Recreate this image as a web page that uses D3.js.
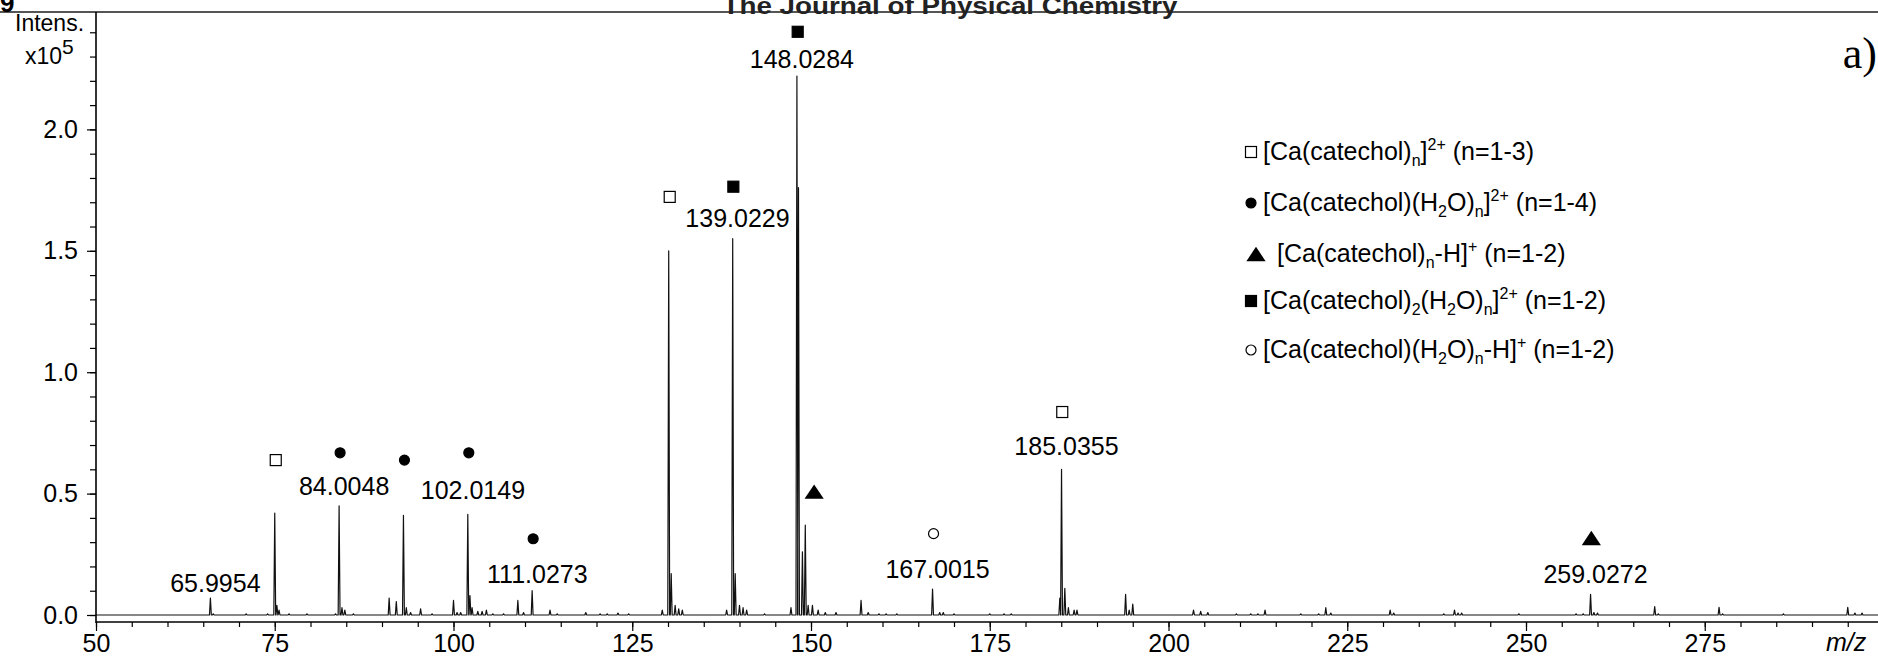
<!DOCTYPE html>
<html>
<head>
<meta charset="utf-8">
<script src="https://cdn.jsdelivr.net/npm/d3@7/dist/d3.min.js"></script>
<style>
  body { margin: 0; background: #fff; }
  svg { display: block; }
  text { font-family: "Liberation Sans", Arial, sans-serif; fill: #000; }
</style>
</head>
<body>
<svg id="chart"></svg>
<script>
// Peak list: m/z and intensity (x10^5)
const peakMz = [66.0, 66.4, 71.0, 74.0, 75.0, 75.3, 75.6, 77.0, 79.5, 83.5, 84.0, 84.4, 84.8, 86.0,
  91.0, 92.0, 93.0, 93.4, 94.0, 95.4, 97.0, 100.0, 100.5, 101.0, 102.0, 102.3, 102.6, 103.4, 104.0, 104.6,
  105.5, 107.0, 109.0, 109.8, 111.0, 113.5, 114.5, 118.5, 120.5, 121.5, 123.0, 124.5,
  129.2, 130.1, 130.45, 131.0, 131.5, 132.0, 138.2, 139.05, 139.4, 140.0, 140.5, 141.0, 143.5,
  147.2, 148.03, 148.25, 148.8, 149.2, 149.6, 150.2, 151.0, 152.0, 153.5, 157.0, 158.0, 159.5, 160.5, 162.0,
  167.0, 168.0, 168.5, 170.0, 175.0, 177.0, 178.0, 184.8, 185.04, 185.5, 186.0, 186.8, 187.2,
  194.0, 194.5, 195.0, 203.5, 204.5, 205.5, 209.5, 211.5, 212.5, 213.5, 218.5, 221.0, 222.0, 222.7,
  231.0, 231.5, 238.5, 240.0, 240.5, 241.0, 249.0, 257.0, 258.0, 259.03, 259.5, 260.0,
  268.0, 268.5, 277.0, 277.5, 286.0, 295.0, 296.0, 297.0];
const peakInt = [0.07, 0.005, 0.005, 0.005, 0.42, 0.04, 0.02, 0.005, 0.005, 0.005, 0.45, 0.03, 0.02, 0.005,
  0.07, 0.055, 0.41, 0.03, 0.01, 0.025, 0.005, 0.06, 0.01, 0.01, 0.415, 0.08, 0.03, 0.015, 0.015, 0.02,
  0.005, 0.005, 0.06, 0.01, 0.10, 0.02, 0.005, 0.01, 0.005, 0.005, 0.008, 0.005,
  0.02, 1.50, 0.17, 0.04, 0.025, 0.02, 0.02, 1.55, 0.17, 0.04, 0.03, 0.02, 0.005,
  0.03, 2.22, 1.76, 0.26, 0.37, 0.04, 0.04, 0.02, 0.01, 0.01, 0.06, 0.01, 0.005, 0.005, 0.005,
  0.107, 0.01, 0.01, 0.005, 0.005, 0.005, 0.005, 0.07, 0.60, 0.11, 0.03, 0.02, 0.02,
  0.085, 0.02, 0.045, 0.02, 0.015, 0.01, 0.005, 0.005, 0.005, 0.02, 0.005, 0.005, 0.03, 0.008,
  0.02, 0.008, 0.005, 0.02, 0.008, 0.008, 0.005, 0.005, 0.005, 0.085, 0.01, 0.008,
  0.035, 0.005, 0.032, 0.005, 0.005, 0.032, 0.008, 0.008];

// Peak labels (the text is the m/z)
const labelText = ["65.9954", "84.0048", "102.0149", "111.0273", "139.0229", "148.0284", "167.0015", "185.0355", "259.0272"];
const labelLevel = [0.095, 0.494, 0.478, 0.132, 1.598, 2.253, 0.152, 0.659, 0.132];

// Species markers over the peaks
const markerMz = [75.0, 84.0, 93.0, 102.0, 111.0, 130.1, 139.0, 148.0, 150.3, 167.0, 185.0, 259.0];
const markerLevel = [0.638, 0.668, 0.638, 0.668, 0.314, 1.722, 1.764, 2.402, 0.508, 0.335, 0.836, 0.317];
const markerType = ["openSquare", "dot", "dot", "dot", "dot", "openSquare", "square", "square", "triangle", "openCircle", "openSquare", "triangle"];

// Legend entries: [text, mode] pieces
const legendType = ["openSquare", "dot", "triangle", "square", "openCircle"];
const legendParts = [
  [["[Ca(catechol)", ""], ["n", "sub"], ["]", ""], ["2+", "sup"], [" (n=1-3)", ""]],
  [["[Ca(catechol)(H", ""], ["2", "sub"], ["O)", ""], ["n", "sub"], ["]", ""], ["2+", "sup"], [" (n=1-4)", ""]],
  [["[Ca(catechol)", ""], ["n", "sub"], ["-H]", ""], ["+", "sup"], [" (n=1-2)", ""]],
  [["[Ca(catechol)", ""], ["2", "sub"], ["(H", ""], ["2", "sub"], ["O)", ""], ["n", "sub"], ["]", ""], ["2+", "sup"], [" (n=1-2)", ""]],
  [["[Ca(catechol)(H", ""], ["2", "sub"], ["O)", ""], ["n", "sub"], ["-H]", ""], ["+", "sup"], [" (n=1-2)", ""]]
];

const xMajor = [50, 75, 100, 125, 150, 175, 200, 225, 250, 275];
const yMajor = [0, 0.5, 1.0, 1.5, 2.0];

const width = 1878, height = 659;
const svg = d3.select("#chart").attr("width", width).attr("height", height);
svg.append("rect").attr("width", width).attr("height", height).attr("fill", "#fff");

const x = d3.scaleLinear().domain([50, 300]).range([96, 1883.5]);
const y = d3.scaleLinear().domain([0, 2.5]).range([615, 8]);
const axisY = 622;

// top frame line + title peeking out of the page header
svg.append("line")
  .attr("x1", 0).attr("x2", width).attr("y1", 12).attr("y2", 12)
  .attr("stroke", "#555").attr("stroke-width", 2);
svg.append("text").attr("x", 950).attr("y", 14)
  .attr("text-anchor", "middle").attr("font-weight", "bold").attr("font-size", 23)
  .attr("textLength", 455).attr("lengthAdjust", "spacingAndGlyphs")
  .style("fill", "#222")
  .text("The Journal of Physical Chemistry");
svg.append("text").attr("x", 0).attr("y", 12)
  .attr("font-weight", "bold").attr("font-size", 26).text("9");

// spectrum
const hw = 0.13;
const pts = [[50, 0]];
peakMz.forEach((m, i) => {
  pts.push([m - hw, 0], [m, peakInt[i]], [m + hw, 0]);
});
pts.push([300, 0]);
svg.append("path")
  .datum(pts)
  .attr("fill", "none")
  .attr("stroke", "#111")
  .attr("stroke-width", 1.2)
  .attr("stroke-linejoin", "round")
  .attr("d", d3.line().x(d => x(d[0])).y(d => y(d[1])));

// y axis
const yMinor = svg.append("g").attr("transform", "translate(96,0)")
  .call(d3.axisLeft(y).tickValues(d3.range(0, 25).map(i => i / 10)).tickSize(6).tickFormat(""));
yMinor.select(".domain").remove();
const yAx = svg.append("g").attr("transform", "translate(96,0)")
  .call(d3.axisLeft(y).tickValues(yMajor).tickSize(9).tickPadding(9).tickFormat(d3.format(".1f")));
yAx.select(".domain").remove();
yAx.selectAll("text").attr("font-size", 25).style("font-family", "'Liberation Sans', Arial, sans-serif");
svg.selectAll(".tick line").attr("stroke", "#000").attr("stroke-width", 1.2);
svg.append("line").attr("x1", 96).attr("x2", 96).attr("y1", 12).attr("y2", axisY + 1)
  .attr("stroke", "#000").attr("stroke-width", 1.6);

// x axis
const xMinorG = svg.append("g").attr("transform", `translate(0,${axisY})`)
  .call(d3.axisBottom(x).tickValues(d3.range(50, 300, 5)).tickSize(5).tickFormat(""));
xMinorG.select(".domain").remove();
const xAx = svg.append("g").attr("transform", `translate(0,${axisY})`)
  .call(d3.axisBottom(x).tickValues(xMajor).tickSize(9).tickPadding(3).tickFormat(d3.format("d")));
xAx.select(".domain").remove();
xAx.selectAll("text").attr("font-size", 25).style("font-family", "'Liberation Sans', Arial, sans-serif");
svg.selectAll(".tick line").attr("stroke", "#000").attr("stroke-width", 1.2);
svg.append("line").attr("x1", 96).attr("x2", width).attr("y1", axisY).attr("y2", axisY)
  .attr("stroke", "#000").attr("stroke-width", 1.6);
svg.append("text").attr("x", 1826).attr("y", 651)
  .attr("font-size", 25).attr("font-style", "italic").text("m/z");

// y axis title
svg.append("text").attr("x", 15).attr("y", 31).attr("font-size", 23).text("Intens.");
const mult = svg.append("text").attr("x", 25).attr("y", 64).attr("font-size", 23);
mult.append("tspan").text("x10");
mult.append("tspan").attr("dy", -10).attr("font-size", 21).text("5");

// panel letter
svg.append("text").attr("x", 1877).attr("y", 68).attr("text-anchor", "end")
  .attr("font-size", 44).style("font-family", "'Liberation Serif', 'Times New Roman', serif").text("a)");

// marker drawing
function drawMarker(g, type, cx, cy, s) {
  if (type === "openSquare" || type === "square") {
    g.append("rect").attr("x", cx - s / 2).attr("y", cy - s / 2).attr("width", s).attr("height", s)
      .attr("fill", type === "square" ? "#000" : "#fff").attr("stroke", "#000").attr("stroke-width", 1.2);
  } else if (type === "dot" || type === "openCircle") {
    g.append("circle").attr("cx", cx).attr("cy", cy).attr("r", s / 2)
      .attr("fill", type === "dot" ? "#000" : "#fff").attr("stroke", "#000").attr("stroke-width", 1.2);
  } else if (type === "triangle") {
    const h = s * 0.9;
    g.append("path").attr("d", `M${cx - s * 0.6},${cy + h / 2}L${cx + s * 0.6},${cy + h / 2}L${cx},${cy - h / 2}Z`)
      .attr("fill", "#000");
  }
}

const marks = svg.append("g");
markerMz.forEach((m, i) => {
  const t = markerType[i];
  const s = t === "triangle" ? 16 : (t === "dot" || t === "openCircle" ? 10 : 11);
  drawMarker(marks, t, x(m) + 1, y(markerLevel[i]), s);
});

// peak labels
svg.append("g").selectAll("text").data(labelText).join("text")
  .attr("x", d => x(+d) + 5)
  .attr("y", (d, i) => y(labelLevel[i]))
  .attr("text-anchor", "middle")
  .attr("font-size", 25)
  .text(d => d);

// legend
const legY = [160, 211, 262, 309, 358];
const leg = svg.append("g");
legendParts.forEach((parts, i) => {
  const t = legendType[i];
  const s = t === "triangle" ? 16 : (t === "dot" || t === "openCircle" ? 10 : 11);
  const tx = t === "triangle" ? 1277 : 1263;
  drawMarker(leg, t, t === "triangle" ? 1256 : 1251, legY[i] - 8, s);
  const txt = leg.append("text").attr("x", tx).attr("y", legY[i]).attr("font-size", 25);
  let shift = 0;
  parts.forEach(([s2, mode]) => {
    const target = mode === "sub" ? 6 : mode === "sup" ? -10 : 0;
    const ts = txt.append("tspan").attr("dy", target - shift).text(s2);
    if (mode) ts.attr("font-size", 16);
    shift = target;
  });
});
</script>
</body>
</html>
